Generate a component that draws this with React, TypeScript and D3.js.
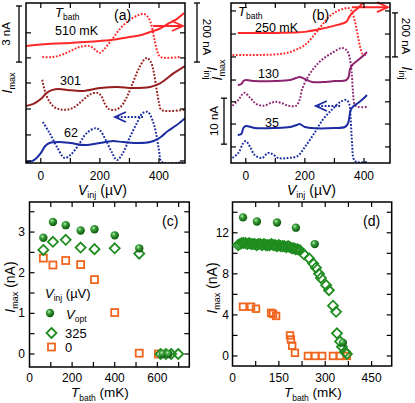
import React from "react";
import * as d3 from "d3";

const FONT = "'Liberation Sans', Arial, Helvetica, sans-serif";

// ---------- panel (a): traces vs V_inj (µV); Imax in nA, Iinj in nA, offset for clarity
const a510V = [-50, 0, 50, 100, 150, 200, 250, 300, 340, 370, 400, 430, 460, 485];
const a510Imax = [0, 0.08, 0.13, 0.16, 0.21, 0.27, 0.35, 0.48, 0.59, 0.75, 0.91, 1.18, 1.44, 1.76];
const a510InjV = [5, 40, 70, 100, 130, 165, 185, 200, 215, 240, 270, 300, 330, 350, 365, 375, 385, 395, 405, 470];
const a510Inj = [0, 0, 7, 20, 34, 37, 24, 14, 27, 58, 98, 125, 142, 146, 132, 105, 58, 17, 0, 0];
const a301V = [-50, -25, 0, 20, 40, 60, 90, 140, 200, 260, 310, 370, 400, 420, 450, 488];
const a301Imax = [0, 0.11, 0.37, 0.7, 0.86, 0.91, 0.86, 0.8, 0.96, 1.02, 0.96, 1.02, 1.18, 1.39, 1.76, 2.14];
const a301InjV = [5, 15, 30, 50, 80, 110, 140, 165, 190, 205, 215, 230, 250, 270, 290, 310, 330, 350, 360, 372, 382, 392, 400, 408, 485];
const a301Inj = [102, 61, 27, 7, 0, 7, 31, 51, 58, 47, 24, 3, 0, 10, 41, 88, 136, 170, 176, 163, 129, 68, 24, 0, 0];
const a62V = [-50, -30, -15, 0, 15, 30, 60, 100, 150, 200, 240, 280, 330, 370, 395, 410, 430, 460, 488];
const a62Imax = [0, 0.05, 0.21, 0.48, 0.86, 1.02, 1.07, 1.02, 0.91, 1.02, 1.12, 1.07, 1.02, 1.07, 1.23, 1.39, 1.66, 1.98, 2.35];
const a62InjV = [7, 30, 55, 80, 100, 125, 155, 185, 200, 220, 240, 258, 278, 300, 325, 345, 362, 378, 390, 400, 410, 480];
const a62Inj = [136, 98, 51, 14, 24, 54, 98, 115, 108, 75, 34, 7, 31, 81, 132, 166, 170, 142, 98, 41, 0, 0];
const aOffImax = [6.26, 3.05, 0.05];
const aOffInj = [359, 180, 3];

// ---------- panel (b)
const b250V = [-27, 100, 200, 270, 310, 340, 350, 360, 380, 400];
const b250Imax = [0, 0, 0.22, 1.09, 1.74, 2.39, 3.48, 4.35, 5.43, 6.74];
const b250InjV = [-45, 50, 120, 160, 200, 234, 258, 285, 310, 330, 345, 355, 363, 372, 380, 387, 395, 410];
const b250Inj = [0, 0, 5, 18, 45, 95, 136, 177, 200, 209, 214, 205, 182, 136, 82, 36, 5, 0];
const b130V = [-27, -15, -8, 0, 30, 100, 150, 170, 182, 200, 225, 260, 300, 340, 348, 352, 360, 380, 400, 410];
const b130Imax = [0, 0.22, 0.87, 1.09, 0.87, 0.87, 1.09, 1.52, 1.74, 1.3, 0.65, 0.65, 0.87, 1.09, 1.74, 3.26, 4.35, 5.43, 6.52, 7.17];
const b130InjV = [-45, -25, -5, 15, 35, 60, 85, 100, 120, 145, 170, 182, 190, 210, 234, 258, 292, 325, 340, 350, 358, 363, 369, 380, 415];
const b130Inj = [5, 32, 64, 41, 14, 5, 18, 23, 18, 5, 5, 32, 77, 136, 182, 214, 245, 268, 259, 232, 159, 64, 9, 0, 0];
const b35V = [-27, -15, -8, 0, 30, 100, 150, 172, 182, 200, 220, 300, 335, 345, 350, 355, 365, 380, 400, 410];
const b35Imax = [0, 0.22, 1.52, 1.96, 1.52, 1.52, 1.74, 2.17, 2.39, 1.74, 1.52, 1.52, 1.74, 2.39, 3.7, 5.43, 6.3, 6.96, 8.04, 8.7];
const b35InjV = [-45, -25, -10, 0, 15, 30, 55, 75, 90, 110, 140, 175, 200, 230, 260, 290, 320, 340, 350, 355, 360, 365, 375, 410];
const b35Inj = [18, 41, 82, 95, 68, 32, 18, 41, 36, 18, 18, 27, 68, 127, 191, 236, 273, 282, 264, 191, 77, 14, 0, 0];
const bOffImax = [28.3, 16.96, 6.09];
const bOffInj = [491, 255, 4.5];

// ---------- panel (c): Imax vs T_bath
const cVoptT = [65, 110, 170, 240, 305, 400, 515, 625, 652];
const cVopt = [2.86, 3.25, 3.17, 3.04, 3.07, 2.92, 2.6, 0, 0];
const c325T = [65, 110, 170, 240, 305, 400, 515, 615, 640, 665, 698];
const c325 = [2.56, 2.76, 2.81, 2.62, 2.58, 2.6, 2.47, 0, 0, 0, 0];
const c0T = [65, 110, 170, 240, 305, 400, 515, 605];
const c0 = [2.36, 2.19, 2.3, 2.2, 1.83, 1.02, 0.02, 0];

// ---------- panel (d)
const dVoptT = [34, 79, 144, 205, 266, 357];
const dVopt = [13.5, 13.1, 13.0, 12.5, 10.9, 1.3];
const d325T = [18, 24, 30, 36, 42, 48, 54, 60, 66, 72, 78, 84, 90, 96, 102, 108, 114, 120, 126, 132, 138, 144, 150, 156, 162, 168, 174, 180, 186, 192, 198, 204, 210,
  218, 231, 248, 261, 270, 280, 286, 303, 312, 325, 335, 338, 348, 354, 364, 370];
const d325 = [10.8, 10.9, 11.0, 11.0, 11.0, 10.9, 11.0, 10.9, 10.9, 10.9, 10.8, 10.9, 10.9, 10.8, 10.9, 10.8, 10.8, 10.8, 10.9, 10.8, 10.8, 10.7, 10.8, 10.7, 10.7, 10.7, 10.6, 10.7, 10.6, 10.5, 10.5, 10.4, 10.4,
  10.3, 9.9, 9.5, 9.0, 8.6, 8.0, 7.6, 6.9, 6.4, 4.9, 4.3, 2.2, 1.4, 0.9, 0.4, 0.2];
const d0T = [34, 60, 76, 125, 131, 141, 186, 189, 193, 202, 244, 267, 290, 325, 348, 370];
const d0 = [4.8, 4.8, 4.6, 4.2, 4.1, 3.9, 2.0, 1.6, 1.0, 0.3, 0, 0, 0, 0, 0, 0];

const RED = "#ff2828";
const MAROON = "#961e1e";
const NAVY = "#1c2ca2";
const PURPLE = "#8c2470";
const GREEN = "#1f8c1f";
const ORANGE = "#f0651e";

type S = d3.ScaleLinear<number, number>;

const trace = (xs: S, ys: S, X: number[], Y: number[], off: number) =>
  d3
    .line<number>()
    .x((_, i) => xs(X[i]))
    .y((v) => ys(v + off))
    .curve(d3.curveCatmullRom.alpha(0.5))(Y) || "";

function Frame({ xs, ys, xt, yt, len = 5 }: { xs: S; ys: S; xt: number[]; yt: number[]; len?: number }) {
  const [x0, x1] = xs.range();
  const [y0, y1] = ys.range();
  return (
    <g stroke="#000" strokeWidth={1.2} fill="none">
      {xt.map((t) => (
        <g key={"x" + t}>
          <line x1={xs(t)} x2={xs(t)} y1={y0} y2={y0 - len} />
          <line x1={xs(t)} x2={xs(t)} y1={y1} y2={y1 + len} />
        </g>
      ))}
      {yt.map((t) => (
        <g key={"y" + t}>
          <line x1={x0} x2={x0 + len} y1={ys(t)} y2={ys(t)} />
          <line x1={x1} x2={x1 - len} y1={ys(t)} y2={ys(t)} />
        </g>
      ))}
      <rect x={x0} y={y1} width={x1 - x0} height={y0 - y1} strokeWidth={1.5} />
    </g>
  );
}

const DOT = "1.8 1.6";

function ScaleBar({ x, y1, y2 }: { x: number; y1: number; y2: number }) {
  return (
    <g stroke="#000" strokeWidth={1.3}>
      <line x1={x} x2={x} y1={y1} y2={y2} />
      <line x1={x - 3} x2={x + 3} y1={y1} y2={y1} />
      <line x1={x - 3} x2={x + 3} y1={y2} y2={y2} />
    </g>
  );
}

function Arrow({ x1, x2, y, color, dotted }: { x1: number; x2: number; y: number; color: string; dotted?: boolean }) {
  const d = x2 > x1 ? -1 : 1;
  return (
    <g stroke={color} fill="none" strokeWidth={2}>
      <line x1={x1} x2={x2} y1={y} y2={y} strokeDasharray={dotted ? DOT : undefined} />
      <path d={`M${x2 + d * 11},${y - 5} L${x2},${y} L${x2 + d * 11},${y + 5}`} strokeWidth={1.8} />
    </g>
  );
}

export default function App() {
  const xa = d3.scaleLinear().domain([-50, 488]).range([26, 185]);
  const xb = d3.scaleLinear().domain([-50, 488]).range([231, 390]);
  const yMa = d3.scaleLinear().domain([0, 8.56]).range([163, 3]);
  const yIa = d3.scaleLinear().domain([0, 542]).range([163, 3]);
  const yMb = d3.scaleLinear().domain([0, 34.8]).range([163, 3]);
  const yIb = d3.scaleLinear().domain([0, 727]).range([163, 3]);
  const xc = d3.scaleLinear().domain([0, 750]).range([29.5, 189.3]);
  const yc = d3.scaleLinear().domain([-0.32, 3.74]).range([367, 202]);
  const xd = d3.scaleLinear().domain([0, 515]).range([232.5, 391.7]);
  const yd = d3.scaleLinear().domain([-0.98, 15.0]).range([366, 202]);

  const vTicks = [0, 100, 200, 300, 400];
  const vLabels = [0, 200, 400];

  const aSolid = [
    [a510V, a510Imax, RED],
    [a301V, a301Imax, MAROON],
    [a62V, a62Imax, NAVY],
  ] as [number[], number[], string][];
  const aDot = [
    [a510InjV, a510Inj, RED],
    [a301InjV, a301Inj, MAROON],
    [a62InjV, a62Inj, NAVY],
  ] as [number[], number[], string][];
  const bSolid = [
    [b250V, b250Imax, RED],
    [b130V, b130Imax, PURPLE],
    [b35V, b35Imax, NAVY],
  ] as [number[], number[], string][];
  const bDot = [
    [b250InjV, b250Inj, RED],
    [b130InjV, b130Inj, PURPLE],
    [b35InjV, b35Inj, NAVY],
  ] as [number[], number[], string][];

  const diamond = "M0,-5L5,0L0,5L-5,0Z";
  const txt = { fontFamily: FONT, fontSize: 12, fill: "#000" } as const;

  const vTitle = (x: number) => (
    <text x={x} y={195} {...txt} fontSize={14}>
      <tspan fontStyle="italic">V</tspan>
      <tspan fontSize={9} dy={3}>inj</tspan>
      <tspan dy={-3}> (µV)</tspan>
    </text>
  );
  const tTitle = (x: number) => (
    <text x={x} y={397} {...txt} fontSize={13.5}>
      <tspan fontStyle="italic">T</tspan>
      <tspan fontSize={8.5} dy={3.5}>bath</tspan>
      <tspan dy={-3.5}> (mK)</tspan>
    </text>
  );
  const imaxTitle = (x: number, y: number, unit: boolean) => (
    <text transform={`translate(${x},${y}) rotate(-90)`} textAnchor="middle" {...txt} fontSize={14}>
      <tspan fontStyle="italic">I</tspan>
      <tspan fontSize={9} dy={3}>max</tspan>
      {unit ? <tspan dy={-3}> (nA)</tspan> : null}
    </text>
  );
  const iinjTitle = (x: number, y: number) => (
    <text transform={`translate(${x},${y}) rotate(90)`} textAnchor="middle" {...txt} fontSize={14}>
      <tspan fontStyle="italic">I</tspan>
      <tspan fontSize={9} dy={3}>inj</tspan>
    </text>
  );
  const tb = (x: number, y: number) => (
    <text x={x} y={y} {...txt} fontSize={13}>
      <tspan fontStyle="italic">T</tspan>
      <tspan fontSize={8.5} dy={2.5}>bath</tspan>
    </text>
  );

  return (
    <svg width={415} height={403} style={{ position: "absolute", left: 0, top: 0, background: "#fff" }}>
      <defs>
        <radialGradient id="ball" cx="38%" cy="35%" r="65%">
          <stop offset="0%" stopColor="#c4ecc0" />
          <stop offset="35%" stopColor="#3aa23a" />
          <stop offset="100%" stopColor="#0b560b" />
        </radialGradient>
        <clipPath id="clipA">
          <rect x={26} y={3} width={159} height={160} />
        </clipPath>
        <clipPath id="clipB">
          <rect x={231} y={3} width={159} height={160} />
        </clipPath>
      </defs>

      {/* ---------- (a) ---------- */}
      <g clipPath="url(#clipA)" fill="none">
        {aDot.map(([X, Y, c], i) => (
          <path key={"ad" + i} d={trace(xa, yIa, X, Y, aOffInj[i])} stroke={c} strokeWidth={2} strokeDasharray={DOT} />
        ))}
        {aSolid.map(([X, Y, c], i) => (
          <path key={"as" + i} d={trace(xa, yMa, X, Y, aOffImax[i])} stroke={c} strokeWidth={2} />
        ))}
      </g>
      <Arrow x1={xa(380)} x2={xa(481)} y={yMa(7.33)} color={RED} />
      <Arrow x1={xa(346)} x2={xa(251)} y={yIa(156)} color={NAVY} dotted />
      <Frame xs={xa} ys={yIa} xt={vTicks} yt={[7, 95, 183, 271, 356, 441]} />
      {vLabels.map((v) => (
        <text key={"al" + v} x={xa(v)} y={180} textAnchor="middle" {...txt}>
          {v}
        </text>
      ))}
      {vTitle(78)}
      {tb(55, 17)}
      <text x={55} y={35} {...txt} fontSize={12.5}>510 mK</text>
      <text x={114} y={20} {...txt} fontSize={14}>(a)</text>
      <text x={60} y={85} {...txt} fontSize={12.5}>301</text>
      <text x={64} y={137} {...txt} fontSize={12.5}>62</text>
      <ScaleBar x={19} y1={yMa(8.4)} y2={yMa(5.4)} />
      <text transform={`translate(10,34) rotate(-90)`} textAnchor="middle" {...txt} fontSize={11.5}>3 nA</text>
      {imaxTitle(12, 83, false)}
      <ScaleBar x={197} y1={yIa(542)} y2={yIa(342)} />
      <text transform={`translate(202.5,37) rotate(90)`} textAnchor="middle" {...txt} fontSize={11.5}>200 nA</text>
      {iinjTitle(206.5, 73)}

      {/* ---------- (b) ---------- */}
      <g clipPath="url(#clipB)" fill="none">
        {bDot.map(([X, Y, c], i) => (
          <path key={"bd" + i} d={trace(xb, yIb, X, Y, bOffInj[i])} stroke={c} strokeWidth={2} strokeDasharray={DOT} />
        ))}
        {bSolid.map(([X, Y, c], i) => (
          <path key={"bs" + i} d={trace(xb, yMb, X, Y, bOffImax[i])} stroke={c} strokeWidth={2} />
        ))}
      </g>
      <Arrow x1={xb(359)} x2={xb(481)} y={yMb(33.9)} color={RED} />
      <Arrow x1={xb(319)} x2={xb(237)} y={yIb(259)} color={NAVY} dotted />
      <Frame xs={xb} ys={yIb} xt={vTicks} yt={[73, 177, 278, 377, 482, 586, 691]} />
      {vLabels.map((v) => (
        <text key={"bl" + v} x={xb(v)} y={180} textAnchor="middle" {...txt}>
          {v}
        </text>
      ))}
      {vTitle(287)}
      {tb(238, 16)}
      <text x={255} y={32} {...txt} fontSize={12.5}>250 mK</text>
      <text x={312} y={20} {...txt} fontSize={14}>(b)</text>
      <text x={258} y={78} {...txt} fontSize={12.5}>130</text>
      <text x={265} y={127} {...txt} fontSize={12.5}>35</text>
      <ScaleBar x={224} y1={yMb(14.1)} y2={yMb(4.1)} />
      <text transform={`translate(218,121) rotate(-90)`} textAnchor="middle" {...txt} fontSize={11.5}>10 nA</text>
      {imaxTitle(222, 70, false)}
      <ScaleBar x={395} y1={yIb(682)} y2={yIb(482)} />
      <text transform={`translate(401.5,36) rotate(90)`} textAnchor="middle" {...txt} fontSize={11.5}>200 nA</text>
      {iinjTitle(402, 73)}

      {/* ---------- (c) ---------- */}
      <Frame xs={xc} ys={yc} xt={[100, 200, 300, 400, 500, 600, 700]} yt={d3.range(0, 3.6, 0.5)} />
      {c0T.map((t, i) => (
        <rect key={"c0" + i} x={xc(t) - 3.5} y={yc(c0[i]) - 3.5} width={7} height={7} fill="none" stroke={ORANGE} strokeWidth={1.8} />
      ))}
      {c325T.map((t, i) => (
        <path key={"c3" + i} d={diamond} transform={`translate(${xc(t)},${yc(c325[i])})`} fill="none" stroke={GREEN} strokeWidth={1.8} />
      ))}
      {cVoptT.map((t, i) => (
        <circle key={"cv" + i} cx={xc(t)} cy={yc(cVopt[i])} r={4.2} fill="url(#ball)" />
      ))}
      {[0, 200, 400, 600].map((v) => (
        <text key={"cx" + v} x={xc(v)} y={381.5} textAnchor="middle" {...txt}>{v}</text>
      ))}
      {[0, 1, 2, 3].map((v) => (
        <text key={"cy" + v} x={25} y={yc(v) + 4} textAnchor="end" {...txt}>{v}</text>
      ))}
      {tTitle(71)}
      {imaxTitle(15, 287, true)}
      <text x={162} y={226} {...txt} fontSize={14}>(c)</text>
      <text x={45} y={298} {...txt} fontSize={13}>
        <tspan fontStyle="italic">V</tspan>
        <tspan fontSize={8.5} dy={3}>inj</tspan>
        <tspan dy={-3}> (µV)</tspan>
      </text>
      <circle cx={50} cy={313} r={4.2} fill="url(#ball)" />
      <text x={66} y={319} {...txt} fontSize={13}>
        <tspan fontStyle="italic">V</tspan>
        <tspan fontSize={8.5} dy={3}>opt</tspan>
      </text>
      <path d={diamond} transform="translate(51.5,333)" fill="none" stroke={GREEN} strokeWidth={1.8} />
      <text x={65} y={338} {...txt} fontSize={13}>325</text>
      <rect x={48} y={343.5} width={7} height={7} fill="none" stroke={ORANGE} strokeWidth={1.8} />
      <text x={65} y={352} {...txt} fontSize={13}>0</text>

      {/* ---------- (d) ---------- */}
      <Frame xs={xd} ys={yd} xt={[75, 150, 225, 300, 375, 450]} yt={d3.range(0, 15, 2)} />
      {d0T.map((t, i) => (
        <rect key={"d0" + i} x={xd(t) - 3.3} y={yd(d0[i]) - 3.3} width={6.6} height={6.6} fill="none" stroke={ORANGE} strokeWidth={1.8} />
      ))}
      {d325T.map((t, i) => (
        <path key={"d3" + i} d={diamond} transform={`translate(${xd(t)},${yd(d325[i])})`} fill="none" stroke={GREEN} strokeWidth={1.8} />
      ))}
      {dVoptT.map((t, i) => (
        <circle key={"dv" + i} cx={xd(t)} cy={yd(dVopt[i])} r={4.2} fill="url(#ball)" />
      ))}
      {[0, 150, 300, 450].map((v) => (
        <text key={"dx" + v} x={xd(v)} y={381.5} textAnchor="middle" {...txt}>{v}</text>
      ))}
      {[0, 4, 8, 12].map((v) => (
        <text key={"dy" + v} x={229} y={yd(v) + 4} textAnchor="end" {...txt}>{v}</text>
      ))}
      {tTitle(284)}
      {imaxTitle(217, 288, true)}
      <text x={363} y={226} {...txt} fontSize={14}>(d)</text>
    </svg>
  );
}
